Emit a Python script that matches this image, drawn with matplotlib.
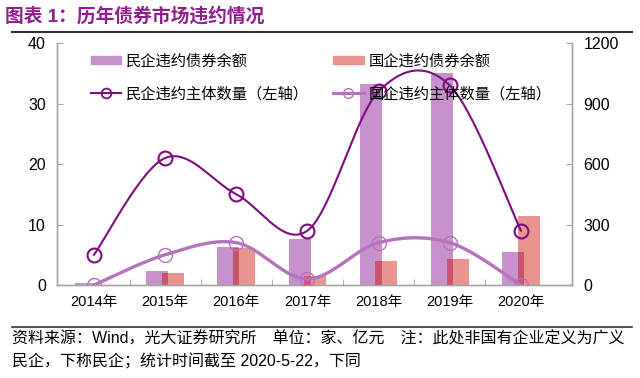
import numpy as np
import matplotlib
matplotlib.use("Agg")
import matplotlib.pyplot as plt
from matplotlib.patches import Patch
from matplotlib.lines import Line2D

plt.rcParams['font.family'] = ['Liberation Sans', 'Noto Sans CJK SC', 'DejaVu Sans']

years = ['2014年', '2015年', '2016年', '2017年', '2018年', '2019年', '2020年']
private_amount = [10, 71, 190, 230, 997, 1052, 162]      # 亿元, right axis
state_amount = [0, 60, 183, 43, 120, 127, 342]           # 亿元, right axis
private_count = [5, 21, 15, 9, 32, 33, 9]                # 家, left axis
state_count = [0, 5, 7, 1, 7, 7, 0]                      # 家, left axis

title = '图表 1：历年债券市场违约情况'
footer1 = '资料来源：Wind，光大证券研究所　单位：家、亿元　注：此处非国有企业定义为广义'
footer2 = '民企，下称民企；统计时间截至 2020-5-22，下同'

C_PBAR = '#C792CC'
C_SBAR = '#E8958F'
C_OVER = '#C9546E'
C_PLINE = '#7D0E7D'
C_SLINE = '#B572BD'
GRID = '#A6A6A6'


def smooth(xs, ys, n=40):
    xs = np.asarray(xs, float)
    ys = np.asarray(ys, float)
    P = np.column_stack([xs, ys])
    out = []
    for i in range(len(P) - 1):
        p0 = P[i - 1] if i > 0 else P[i]
        p1 = P[i]
        p2 = P[i + 1]
        p3 = P[i + 2] if i + 2 < len(P) else P[i + 1]
        c1 = p1 + (p2 - p0) / 6.0
        c2 = p2 - (p3 - p1) / 6.0
        t = np.linspace(0, 1, n)[:, None]
        seg = ((1 - t) ** 3) * p1 + 3 * ((1 - t) ** 2) * t * c1 + 3 * (1 - t) * t ** 2 * c2 + t ** 3 * p2
        out.append(seg if i == 0 else seg[1:])
    seg = np.vstack(out)
    return seg[:, 0], seg[:, 1]


fig = plt.figure(figsize=(6.4, 3.78), dpi=100)
ax = fig.add_axes([0.089, 0.246, 0.805, 0.640])
ax2 = ax.twinx()

x = np.arange(len(years))
w = 0.31
off = 0.11
ax2.bar(x - off, private_amount, width=w, color=C_PBAR, zorder=2)
ax2.bar(x + off, state_amount, width=w, color=C_SBAR, zorder=2)
over_w = w - 2 * off
ax2.bar(x, np.minimum(private_amount, state_amount), width=over_w, color=C_OVER, zorder=3)

sx, sy = smooth(x, state_count)
ax.plot(sx, sy, color=C_SLINE, lw=2.4, zorder=4)
ax.plot(x, state_count, ls='none', marker='o', ms=10, mfc='none', mec=C_SLINE, mew=1.0, zorder=5)
px, py = smooth(x, private_count)
ax.plot(px, py, color=C_PLINE, lw=1.5, zorder=6)
ax.plot(x, private_count, ls='none', marker='o', ms=10, mfc='none', mec=C_PLINE, mew=1.5, zorder=7)

ax.set_zorder(ax2.get_zorder() + 1)
ax.patch.set_visible(False)

ax.set_xlim(-0.52, 6.72)
ax.set_ylim(0, 40)
ax2.set_ylim(0, 1200)
ax.set_yticks([0, 10, 20, 30, 40])
ax2.set_yticks([0, 300, 600, 900, 1200])
ax.set_xticks(x)
ax.set_xticklabels(years, fontsize=10.5)
ax.set_xticks(np.arange(0.5, 6, 1), minor=True)
ax.tick_params(axis='x', which='major', length=0, pad=7)
ax.tick_params(axis='x', which='minor', direction='in', length=4, color=GRID)
ax.tick_params(axis='y', direction='in', length=4, color=GRID, labelsize=11.5, pad=8)
ax2.tick_params(axis='y', direction='in', length=4, color=GRID, labelsize=11.5, pad=8)

for a in (ax, ax2):
    a.spines['top'].set_visible(False)
    for s in ('left', 'right', 'bottom'):
        a.spines[s].set_color(GRID)
        a.spines[s].set_linewidth(1.0)

handles = [
    Patch(color=C_PBAR),
    Line2D([], [], color=C_PLINE, lw=1.5, marker='o', ms=7, mfc='none', mec=C_PLINE, mew=1.3),
    Patch(color=C_SBAR),
    Line2D([], [], color=C_SLINE, lw=2.2, marker='o', ms=7, mfc='none', mec=C_SLINE, mew=1.0),
]
labels = ['民企违约债券余额', '民企违约主体数量（左轴）', '国企违约债券余额', '国企违约主体数量（左轴）']
leg = fig.legend(handles, labels, ncol=2, loc='upper left', bbox_to_anchor=(0.12, 0.893),
                 frameon=False, fontsize=11, handlelength=2.0, handleheight=0.5,
                 handletextpad=0.3, labelspacing=1.2, columnspacing=1.6)

fig.text(0.008, 0.958, title, fontsize=13.5, fontweight='bold', color='#8E1F8C', va='center', ha='left')
fig.add_artist(Line2D([0.019, 0.988], [0.915, 0.915], color='#333333', lw=1.5, transform=fig.transFigure))
fig.add_artist(Line2D([0.019, 0.988], [0.135, 0.135], color='#333333', lw=1.2, transform=fig.transFigure))
fig.text(0.019, 0.103, footer1, fontsize=11.5, va='center', ha='left')
fig.text(0.019, 0.045, footer2, fontsize=11.5, va='center', ha='left')

fig.savefig('out.png', dpi=100)
